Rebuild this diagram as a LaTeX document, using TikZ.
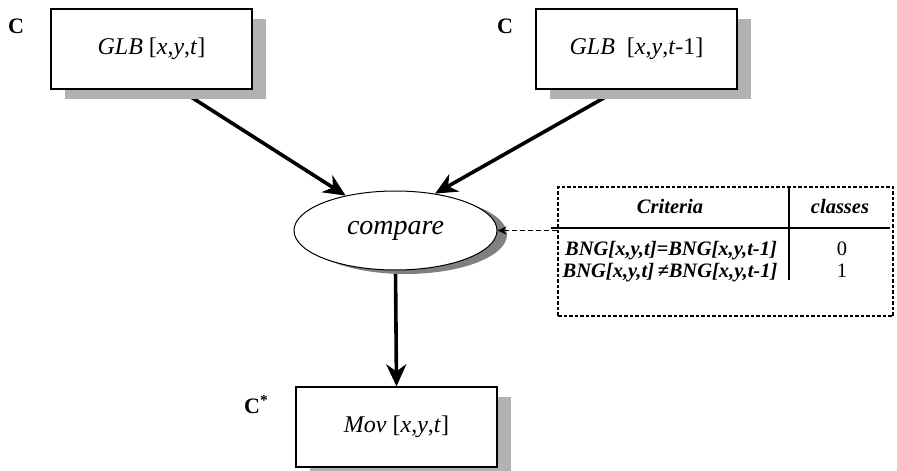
\documentclass[tikz,border=0pt]{standalone}
\usepackage{fontspec}
\setmainfont{Liberation Serif}
\usetikzlibrary{arrows.meta,shapes.geometric,shadows}
\pgfdeclarelayer{bg}
\pgfsetlayers{bg,main}
\tikzset{
  glbbox/.style={draw,line width=1.3pt,fill=white,minimum width=201pt,minimum height=80pt,inner sep=0pt,
    font=\fontsize{24}{28}\selectfont,
    drop shadow={shadow xshift=14pt,shadow yshift=-10pt,fill=gray!60,opacity=1}},
  clabel/.style={anchor=base west,inner sep=0pt,font=\fontsize{22}{26}\selectfont\bfseries},
  cell/.style={anchor=base,inner sep=0pt,font=\fontsize{20.5}{24}\selectfont},
  head/.style={cell,font=\fontsize{20.5}{24}\selectfont\bfseries\itshape},
  flow/.style={line width=3.6pt,-{Stealth[length=22pt,width=20pt,inset=7pt]}},
}
\begin{document}
\begin{tikzpicture}[x=1pt,y=-1pt]
  \useasboundingbox (0,0) rectangle (897,471);
  % boxes and the compare step
  \node[glbbox] (glb1) at (151.5,49) {\textit{GLB} [\textit{x},\textit{y},\textit{t}]};
  \node[glbbox] (glb2) at (636.5,49) {\textit{GLB}\ \ [\textit{x},\textit{y},\textit{t}-1]};
  \node[glbbox] (mov) at (396.5,427) {\textit{Mov} [\textit{x},\textit{y},\textit{t}]};
  \node[ellipse,draw,line width=1pt,fill=white,minimum width=203pt,minimum height=79pt,inner sep=0pt,
    font=\fontsize{28}{32}\selectfont\itshape,
    drop shadow={shadow xshift=10pt,shadow yshift=-4pt,fill=gray,opacity=1}] (cmp) at (395.5,230.5) {compare};
  \node[clabel] (c1) at (8,33) {C};
  \node[clabel] (c2) at (497,33) {C};
  \node[clabel] (cstar) at (244,413) {C\textsuperscript{*}};
  \begin{pgfonlayer}{bg}
    \draw[flow] ([xshift=28pt]glb1.south) -- (cmp.145);
    \draw[flow] ([xshift=-18pt]glb2.south) -- (cmp.43);
    \draw[flow] (cmp.south) -- (mov.north);
  \end{pgfonlayer}
  % criteria table
  \node[draw,line width=1.6pt,dash pattern=on 3.5pt off 2pt,minimum width=335pt,minimum height=129pt,inner sep=0pt] (tbl) at (725.5,251.5) {};
  \draw[line width=2pt] (551,228) -- (890,228);
  \draw[line width=2pt] (789,187) -- (789,280);
  \node[head] (hcrit) at (670,213) {Criteria};
  \node[head] (hcls) at (840,213) {classes};
  \node[head] (row1) at (671,255) {BNG[x,y,t]=BNG[x,y,t-1]};
  \node[head] (row2) at (670,277) {BNG[x,y,t]\,≠BNG[x,y,t-1]};
  \node[cell] (cls0) at (842,255) {0};
  \node[cell] (cls1) at (842,277) {1};
  \draw[line width=1.6pt,dash pattern=on 5pt off 3pt,-{Stealth[length=9pt,width=8pt]}] (tbl.west |- cmp.east) -- (cmp.east);
\end{tikzpicture}
\end{document}
